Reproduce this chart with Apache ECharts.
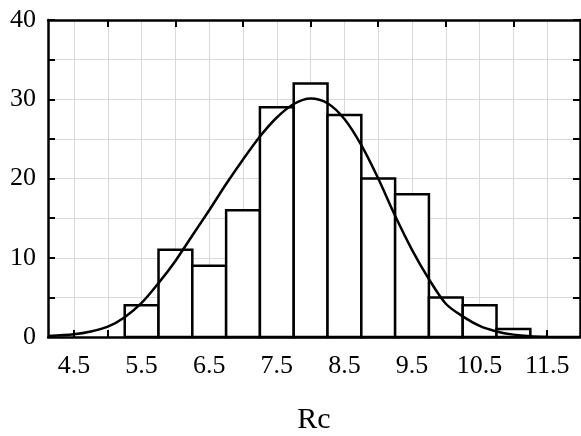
<!DOCTYPE html>
<html>
<head>
<meta charset="UTF-8">
<title>Rc histogram</title>
<script src="https://cdn.jsdelivr.net/npm/echarts@6/dist/echarts.min.js"></script>
</head>
<body style="margin:0;background:#fff">
<div id="main" style="width:581px;height:436px;"></div>
<script>
// histogram bins: [from, to, count]
var binFrom  = [5.25, 5.75, 6.25, 6.75, 7.25, 7.75, 8.25, 8.75, 9.25, 9.75, 10.25, 10.75];
var binTo    = [5.75, 6.25, 6.75, 7.25, 7.75, 8.25, 8.75, 9.25, 9.75, 10.25, 10.75, 11.25];
var counts   = [4, 11, 9, 16, 29, 32, 28, 20, 18, 5, 4, 1];

// fitted curve
var curveX = [4.115, 4.5, 4.75, 5.0, 5.25, 5.5, 5.75, 6.0, 6.25, 6.5, 6.75, 7.0, 7.25, 7.5, 7.75, 8.0, 8.25, 8.5, 8.75, 9.0, 9.25, 9.5, 9.75, 10.0, 10.25, 10.5, 10.75, 11.0, 11.25, 11.5, 11.985];
var curveY = [0.12, 0.35, 0.7, 1.3, 2.5, 4.3, 6.8, 9.6, 12.8, 16.0, 19.3, 22.4, 25.3, 27.7, 29.4, 30.1, 29.5, 27.5, 24.2, 20.0, 15.3, 11.0, 7.3, 4.2, 2.6, 1.4, 0.7, 0.3, 0.1, 0.03, 0];

var xTicks  = [4.5, 5, 5.5, 6, 6.5, 7, 7.5, 8, 8.5, 9, 9.5, 10, 10.5, 11, 11.5];
var xLabels = [4.5, 5.5, 6.5, 7.5, 8.5, 9.5, 10.5, 11.5];
var topTicks = [5, 6, 7, 8, 9, 10, 11];
var yLabels = [0, 10, 20, 30, 40];

var bins = [];
for (var i = 0; i < counts.length; i++) bins.push([binFrom[i], binTo[i], counts[i]]);
var curve = [];
for (var j = 0; j < curveX.length; j++) curve.push([curveX[j], curveY[j]]);

var font = 'Liberation Serif';
var black = '#000';

var myChart = echarts.init(document.getElementById('main'));
var option = {
    animation: false,
    backgroundColor: '#fff',
    grid: { left: 48, right: 1, top: 20, bottom: 99, outerBoundsMode: 'none', containLabel: false },
    xAxis: [{
        type: 'value', position: 'bottom',
        min: 4.115, max: 11.985,
        name: 'Rc', nameLocation: 'middle', nameGap: 68,
        nameTextStyle: { fontFamily: font, fontSize: 30, color: black },
        axisLine: { lineStyle: { color: black, width: 2.5 } },
        axisTick: { inside: true, length: 7, customValues: xTicks, lineStyle: { color: black, width: 2 } },
        axisLabel: { customValues: xLabels, margin: 16, fontFamily: font, fontSize: 26, color: black,
            formatter: function (v) { return v.toFixed(1); } },
        splitLine: { show: true, lineStyle: { color: '#d9d9d9', width: 1 } }
    }, {
        type: 'value', position: 'top',
        min: 4.115, max: 11.985,
        axisLine: { onZero: false, lineStyle: { color: black, width: 2.5 } },
        axisTick: { inside: true, length: 7, customValues: topTicks, lineStyle: { color: black, width: 2 } },
        axisLabel: { show: false },
        splitLine: { show: false }
    }],
    yAxis: [{
        type: 'value', position: 'left',
        min: 0, max: 40, interval: 5,
        axisLine: { show: true, lineStyle: { color: black, width: 2.5 } },
        axisTick: { show: true, inside: true, length: 7, lineStyle: { color: black, width: 2 } },
        axisLabel: { customValues: yLabels, margin: 12, fontFamily: font, fontSize: 26, color: black },
        splitLine: { show: true, lineStyle: { color: '#d9d9d9', width: 1 } }
    }, {
        type: 'value', position: 'right',
        min: 0, max: 40, interval: 5,
        axisLine: { show: true, onZero: false, lineStyle: { color: black, width: 2.5 } },
        axisTick: { show: true, inside: true, length: 7, lineStyle: { color: black, width: 2 } },
        axisLabel: { show: false },
        splitLine: { show: false }
    }],
    series: [{
        type: 'custom',
        xAxisIndex: 0, yAxisIndex: 0,
        data: bins,
        renderItem: function (params, api) {
            var p0 = api.coord([api.value(0), 0]);
            var p1 = api.coord([api.value(1), api.value(2)]);
            return {
                type: 'rect',
                shape: { x: p0[0], y: p1[1], width: p1[0] - p0[0], height: p0[1] - p1[1] },
                style: { fill: '#fff', stroke: black, lineWidth: 2.5 }
            };
        },
        z: 2
    }, {
        type: 'line',
        xAxisIndex: 0, yAxisIndex: 0,
        data: curve,
        smooth: 0.3,
        showSymbol: false,
        lineStyle: { color: black, width: 2.5 },
        z: 3
    }]
};
myChart.setOption(option);
</script>
</body>
</html>
